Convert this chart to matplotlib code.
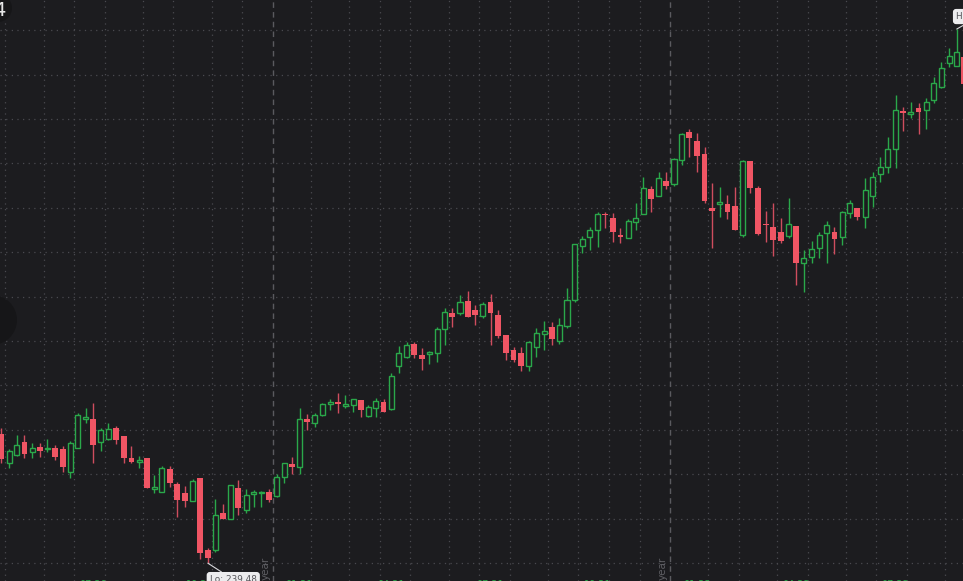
import numpy as np
import matplotlib
matplotlib.use("Agg")
import matplotlib.pyplot as plt
from matplotlib.ticker import MultipleLocator, FixedLocator
from matplotlib.patches import Circle

# weekly candles
opens = [254.03, 250.76, 251.66, 253.13, 252.00, 252.56, 252.34, 252.45, 252.34, 249.75,
         252.45, 255.72, 255.72, 253.13, 253.46, 254.70, 253.80, 251.32, 250.87, 251.32,
         247.83, 247.50, 250.09, 248.40, 247.38, 246.48, 249.07, 240.96, 240.96, 245.13,
         244.45, 247.95, 245.47, 247.27, 247.38, 247.50, 247.05, 249.18, 250.65, 250.31,
         255.72, 255.27, 256.17, 257.41, 257.63, 257.18, 257.29, 257.86, 256.05, 256.95,
         257.63, 256.84, 261.68, 262.70, 264.16, 262.92, 263.04, 263.15, 265.85, 267.65,
         267.65, 269.00, 267.99, 267.31, 268.89, 267.43, 265.18, 263.49, 263.15, 261.68,
         263.82, 265.29, 266.08, 264.50, 266.19, 269.12, 275.20, 276.21, 277.00, 278.80,
         278.35, 276.44, 276.10, 277.90, 278.80, 281.62, 280.83, 282.52, 282.18, 284.88,
         288.03, 287.02, 285.56, 279.48, 279.93, 279.93, 279.70, 276.44, 284.77, 281.73,
         277.68, 277.34, 276.77, 276.32, 277.45, 273.28, 273.96, 274.97, 276.66, 276.77,
         276.21, 278.91, 279.48, 278.46, 280.83, 283.31, 284.09, 286.12, 290.40, 290.06,
         290.74, 290.51, 291.64, 293.10, 295.81, 295.47, 296.48]
highs = [254.70, 252.34, 253.91, 253.91, 253.01, 253.01, 253.46, 252.79, 252.68, 253.24,
         256.39, 256.95, 257.52, 254.70, 255.27, 254.93, 253.80, 252.68, 251.55, 251.32,
         249.41, 250.42, 250.42, 248.62, 248.17, 248.96, 249.07, 241.19, 246.71, 246.14,
         248.28, 248.85, 247.83, 247.72, 247.61, 247.83, 249.52, 250.76, 251.44, 256.95,
         256.28, 256.39, 257.52, 257.97, 258.64, 258.42, 257.97, 257.86, 257.29, 258.08,
         257.97, 260.90, 263.94, 264.39, 264.39, 263.71, 263.37, 266.08, 268.22, 268.22,
         269.68, 270.13, 268.55, 268.89, 269.79, 267.99, 265.18, 263.82, 263.82, 264.50,
         265.96, 266.75, 266.64, 267.09, 270.47, 275.42, 276.32, 277.34, 279.03, 279.03,
         278.91, 277.22, 278.24, 280.04, 282.97, 281.95, 283.53, 283.53, 285.11, 287.92,
         288.37, 287.92, 286.35, 282.29, 281.84, 280.94, 281.84, 284.88, 284.77, 281.95,
         279.14, 280.04, 278.35, 280.60, 277.45, 274.75, 275.76, 276.77, 278.01, 277.34,
         279.14, 280.38, 279.48, 282.86, 283.53, 285.22, 287.47, 292.20, 290.85, 291.41,
         291.30, 291.86, 294.23, 295.92, 297.49, 299.63, 297.04]
lows = [250.76, 250.20, 251.55, 251.32, 251.32, 251.44, 252.00, 251.10, 249.75, 249.07,
        252.45, 255.27, 250.76, 252.11, 253.35, 252.90, 250.76, 250.76, 250.20, 247.95,
        247.38, 247.50, 248.06, 244.68, 245.81, 246.48, 239.95, 239.48, 240.74, 244.45,
        244.45, 244.91, 245.13, 245.81, 245.81, 246.37, 246.93, 248.51, 249.52, 249.52,
        254.48, 254.82, 256.05, 256.73, 256.39, 256.95, 256.50, 255.94, 255.94, 255.94,
        256.50, 256.73, 260.90, 262.59, 262.59, 261.23, 261.91, 262.13, 264.05, 266.08,
        267.43, 267.20, 266.30, 267.09, 264.05, 264.84, 262.36, 262.13, 261.12, 261.12,
        262.70, 263.49, 264.05, 264.16, 265.96, 268.89, 274.41, 274.75, 275.09, 277.22,
        275.65, 275.54, 276.10, 277.00, 278.80, 279.03, 280.83, 281.62, 281.95, 284.32,
        285.22, 283.53, 280.04, 274.97, 278.46, 278.24, 277.00, 276.21, 281.17, 276.44,
        275.65, 274.07, 275.54, 276.10, 270.81, 270.02, 273.28, 273.85, 273.28, 274.30,
        275.31, 278.35, 278.13, 277.22, 279.59, 282.40, 283.42, 283.98, 288.15, 289.61,
        287.81, 288.37, 291.30, 292.99, 295.35, 295.47, 293.22]
closes = [251.21, 252.11, 252.79, 251.77, 252.45, 252.11, 252.45, 251.44, 250.31, 253.01,
          256.17, 255.94, 252.79, 254.48, 254.59, 253.35, 251.32, 250.87, 251.10, 247.95,
          248.06, 250.20, 248.51, 246.60, 246.48, 248.73, 240.63, 240.06, 244.91, 244.45,
          248.28, 245.69, 247.16, 247.50, 247.50, 246.60, 249.18, 250.76, 250.31, 255.72,
          255.38, 256.17, 257.41, 257.63, 257.41, 257.41, 257.97, 256.73, 257.07, 257.74,
          256.50, 260.56, 263.15, 264.05, 262.92, 262.47, 263.26, 265.85, 267.77, 267.20,
          268.89, 267.20, 267.43, 268.67, 267.65, 265.06, 263.15, 262.36, 261.68, 264.39,
          265.40, 265.63, 264.73, 266.30, 269.12, 275.42, 275.99, 277.00, 278.80, 278.69,
          276.77, 276.21, 278.01, 278.35, 281.73, 280.49, 282.86, 281.95, 284.99, 287.81,
          287.36, 285.33, 280.26, 279.14, 280.15, 279.03, 277.00, 284.77, 281.73, 276.55,
          277.56, 275.87, 275.76, 277.68, 273.28, 273.85, 274.86, 276.44, 277.56, 275.99,
          279.03, 280.04, 278.46, 281.50, 282.97, 284.09, 286.12, 290.51, 290.18, 290.29,
          290.29, 291.41, 293.55, 295.24, 296.59, 297.04, 293.44]

# month boundaries (between weekly candles) and year boundaries
month_lines = [0.5, 5.5, 9.5, 13.5, 18.5, 22.5, 27.5, 31.5, 40.5, 45.5, 49.5, 53.5,
               58.5, 62.5, 66.5, 71.5, 75.5, 79.5, 83.5, 92.5, 96.5, 101.5, 105.5,
               110.5, 114.5, 118.5, 123.5]
year_lines = [35.5, 87.5]
label_pos = [12, 26, 39, 51, 64, 78, 91, 104, 117]
label_txt = ["07.20", "10.20", "01.21", "04.21", "07.21", "10.21", "01.22", "04.22", "07.22"]
lo_val = 239.48
hi_val = 299.63

BG = "#1c1c1f"
UP = "#2aa84a"
DOWN = "#f05564"
DOWN_WICK = "#cf4d5e"
GRID = "#4a4a4f"

o = np.array(opens)
h = np.array(highs)
l = np.array(lows)
c = np.array(closes)
idx = np.arange(len(o))
up = c >= o

fig = plt.figure(figsize=(9.63, 5.81), dpi=100, facecolor=BG)
ax = fig.add_axes([0, 0, 1, 1])
ax.set_facecolor(BG)

# wicks
ax.vlines(idx[up], l[up], h[up], color=UP, lw=1, zorder=3)
ax.vlines(idx[~up], l[~up], h[~up], color=DOWN_WICK, lw=1, zorder=3)

# bodies
body_lo = np.minimum(o, c)
body_h = np.maximum(np.abs(c - o), 0.12)
ax.bar(idx[up], body_h[up], bottom=body_lo[up], width=0.66, facecolor=BG,
       edgecolor=UP, linewidth=1, zorder=4)
ax.bar(idx[~up], body_h[~up], bottom=body_lo[~up], width=0.76, color=DOWN,
       linewidth=0, zorder=4)

# grid
ax.xaxis.set_major_locator(FixedLocator(month_lines))
ax.yaxis.set_major_locator(MultipleLocator(5, offset=4.5))
ax.grid(True, color=GRID, linestyle=(0, (1, 3.5)), linewidth=0.9, zorder=1)
ax.tick_params(length=0, labelbottom=False, labelleft=False)
for s in ax.spines.values():
    s.set_visible(False)
for yl in year_lines:
    ax.axvline(yl, color="#5a5a5f", linestyle=(0, (4, 3)), linewidth=1, zorder=2)
    ax.annotate("year", xy=(yl, 0.041), xycoords=("data", "axes fraction"),
                xytext=(-1.5, 0), textcoords="offset points", rotation=90,
                ha="right", va="top", fontsize=7.5, color="#5e5e63")

ax.set_xlim(-0.196, 125.82)
ax.set_ylim(237.47, 302.90)

# date labels, only their tops reach into the screenshot
for p, t in zip(label_pos, label_txt):
    ax.annotate(t, xy=(p, 0.0012), xycoords=("data", "axes fraction"),
                ha="center", va="top", fontsize=7, color=UP)

# low / high markers
lo_i = int(np.argmin(l))
hi_i = int(np.argmax(h))
ax.annotate("Lo: %.2f" % lo_val, xy=(lo_i, lo_val), xytext=(1.4, -8.6),
            textcoords="offset points", ha="left", va="top", fontsize=6.4,
            color="#55555a", zorder=6,
            bbox=dict(boxstyle="round,pad=0.35", fc="#ececee", ec="none"),
            arrowprops=dict(arrowstyle="-", color="#d8d8dc", lw=0.8,
                            shrinkA=0, shrinkB=0))
ax.annotate("Hi: %.2f" % hi_val, xy=(hi_i, hi_val), xytext=(-0.5, 9),
            textcoords="offset points", ha="left", va="center", fontsize=6.4,
            color="#55555a", zorder=6,
            bbox=dict(boxstyle="round,pad=0.35", fc="#ececee", ec="none"),
            arrowprops=dict(arrowstyle="-", color="#d8d8dc", lw=0.8,
                            shrinkA=0, shrinkB=0))

# bits of the app's side buttons, cut off at the left edge
fig.add_artist(Circle((-0.08, 2.61), 0.25, transform=fig.dpi_scale_trans,
                      facecolor="#161618", edgecolor="none"))
fig.add_artist(Circle((-0.02, 5.73), 0.14, transform=fig.dpi_scale_trans,
                      facecolor="#161618", edgecolor="none"))
fig.text(0.05 / 9.63, 1 - 0.01 / 5.81, "4", ha="right", va="top",
         fontsize=14, color="#e6e6e6")

fig.savefig("out.png", dpi=100, facecolor=BG)
